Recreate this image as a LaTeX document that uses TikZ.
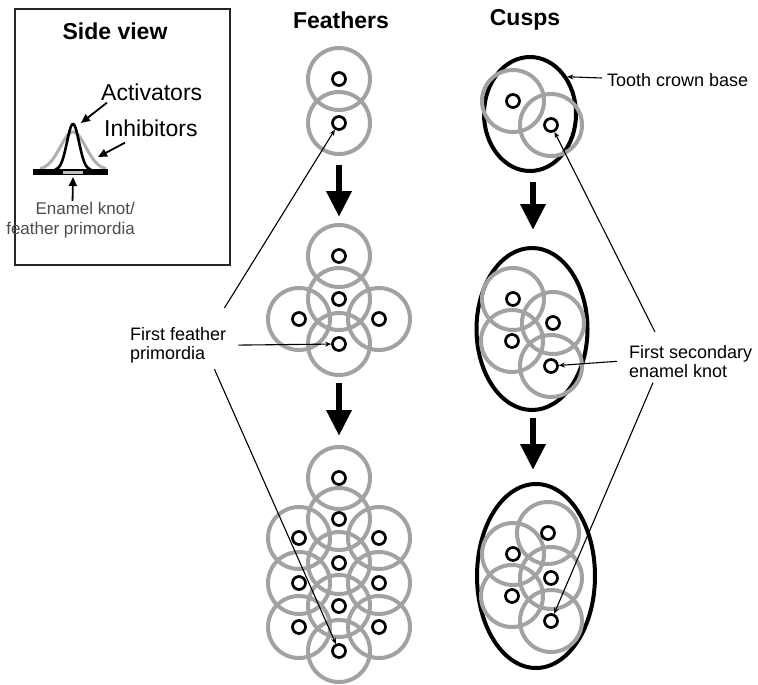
\documentclass[tikz,border=0pt]{standalone}
\usepackage{fontspec}
\setmainfont{Liberation Sans}
\usetikzlibrary{arrows.meta,shapes.geometric}
\definecolor{ringgrey}{RGB}{162,162,162}
\definecolor{curvegrey}{RGB}{175,175,175}
\begin{document}
\begin{tikzpicture}[x=1pt,y=-1pt,
  ring/.style={circle, draw=ringgrey, line width=4pt, minimum size=62pt, inner sep=0pt},
  knot/.style={circle, draw=black, fill=white, line width=2.7pt, minimum size=13pt, inner sep=0pt},
  crown/.style={ellipse, draw=black, line width=4pt, inner sep=0pt},
  bigarrow/.style={line width=6.5pt, -{Triangle[width=24pt,length=26pt]}},
  leader/.style={line width=1.1pt, -{Stealth[length=6pt,width=5pt]}},
  sidearrow/.style={line width=1.8pt, -{Triangle[length=9pt,width=8pt]}},
  title/.style={font=\fontsize{23}{27}\selectfont\bfseries, inner sep=0pt},
  biglbl/.style={font=\fontsize{23}{27}\selectfont, inner sep=0pt},
  lbl/.style={font=\fontsize{18}{19}\selectfont, align=left, inner sep=0pt},
]
\useasboundingbox (0,0) rectangle (758,685);

% column titles
\node[title] (tfeath) at (341,20) {Feathers};
\node[title] (tcusp) at (525,20) {Cusps};

% ---- side view panel ----
\node[draw=black!85, line width=2.2pt, minimum width=215pt, minimum height=256pt,
      inner sep=0pt, anchor=north west] (panel) at (14,8) {};
\node[title] (sidetitle) at (115,31) {Side view};

% inhibitor (broad, grey) and activator (narrow, black) profiles
\draw[curvegrey, line width=3pt] plot[domain=40:106, samples=60]
  (\x,{170-38*exp(-((\x-73)/18)^2)});
\draw[black, line width=2.6pt] plot[domain=55:91, samples=50]
  (\x,{170-46*exp(-((\x-73)/8.5)^2)});
% epithelium with the knot in the middle
\fill[black] (33,169) rectangle (108,175);
\fill[black!25] (63,170.5) rectangle (83,173.5);

\node[biglbl, anchor=west] (act) at (101,92) {Activators};
\node[biglbl, anchor=west] (inh) at (104,128) {Inhibitors};
\coordinate (apk) at (81,123);
\coordinate (ipk) at (98,157);
\coordinate (knotbase) at (73,177);
\draw[sidearrow] ([xshift=6pt,yshift=-2pt]act.south west) -- (apk);
\draw[sidearrow] ([xshift=21pt,yshift=-6pt]inh.south west) -- (ipk);

\node[font=\fontsize{17}{20}\selectfont, text=black!70, align=right, inner sep=0pt,
      anchor=north east] (ek) at (135,202) {Enamel knot/\\feather primordia};
\draw[sidearrow] ([xshift=2pt,yshift=1pt]ek.north) -- (knotbase);

% ---- feathers ----
\def\featherpts{f1a/339/79, f1b/339/123,
  f2a/339/256, f2b/339/299, f2c/299/319, f2d/379/319, f2e/339/344,
  f3a/339/478, f3b/339/519, f3c/299/538, f3d/379/538, f3e/339/563,
  f3f/299/583, f3g/379/583, f3h/339/606, f3i/299/627, f3j/379/627, f3k/339/651}

% ---- cusps: tooth crown bases ----
\node[crown, minimum width=92pt, minimum height=114pt] (c1) at (530,114) {};
\node[crown, minimum width=111pt, minimum height=162pt] (c2) at (532,329) {};
\node[crown, minimum width=118pt, minimum height=184pt] (c3) at (536,576) {};

\def\cusppts{c1a/513/101, c1b/551/125,
  c2a/513/299, c2b/553/323, c2c/512/341, c2d/551/366,
  c3a/548/533, c3b/513/554, c3c/551/578, c3d/512/596, c3e/551/621}

% inhibitory fields
\foreach \nm/\px/\py in \featherpts { \node[ring] (r\nm) at (\px,\py) {}; }
\foreach \nm/\px/\py in \cusppts { \node[ring] (r\nm) at (\px,\py) {}; }
% signalling centres
\foreach \nm/\px/\py in \featherpts { \node[knot] (\nm) at (\px,\py) {}; }
\foreach \nm/\px/\py in \cusppts { \node[knot] (\nm) at (\px,\py) {}; }

% developmental sequence
\draw[bigarrow] ([yshift=-9pt]rf1b.south) -- ([yshift=6pt]rf2a.north);
\draw[bigarrow] ([yshift=-6pt]rf2e.south) -- ([yshift=9pt]rf3a.north);
\draw[bigarrow] ([xshift=3pt,yshift=-9pt]c1.south) -- ([xshift=1pt,yshift=16pt]c2.north);
\draw[bigarrow] ([xshift=1pt,yshift=-6pt]c2.south) -- ([xshift=-3pt,yshift=12pt]c3.north);

% labels and leaders
\node[lbl, anchor=west] (tcb) at (607,80) {Tooth crown base};
\draw[leader] ([xshift=-5pt,yshift=2pt]tcb.west) -- (c1.45);

\node[lbl, anchor=north west] (ffp) at (130,327) {First feather\\primordia};
\draw[leader] ([xshift=-2pt,yshift=19pt]ffp.north east) -- (f1b);
\draw[leader] ([xshift=12pt]ffp.east) -- (f2e);
\draw[leader] ([xshift=-12pt,yshift=-6pt]ffp.south east) -- (f3k);

\node[lbl, anchor=north west] (fsek) at (629,345) {First secondary\\enamel knot};
\draw[leader] ([xshift=26pt,yshift=13pt]fsek.north west) -- (c1b);
\draw[leader] ([xshift=-12pt]fsek.west) -- (c2d);
\draw[leader] ([xshift=24pt,yshift=-5pt]fsek.south west) -- (c3e);
\end{tikzpicture}
\end{document}
